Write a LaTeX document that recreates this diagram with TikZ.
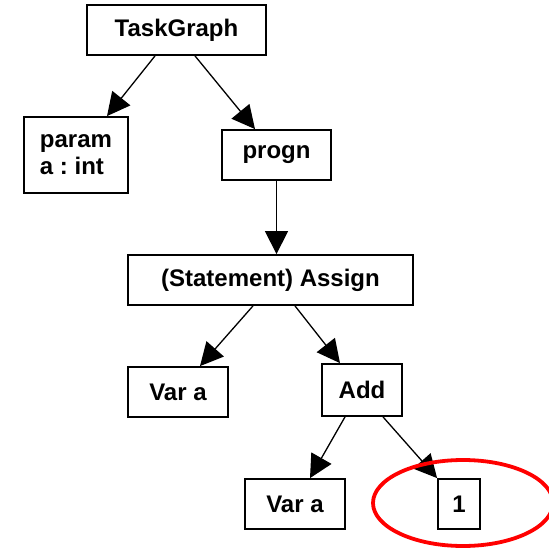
\documentclass[tikz,border=0pt]{standalone}
\usepackage{fontspec}
\setmainfont{Liberation Sans}
\usetikzlibrary{arrows.meta}
\begin{document}
\begin{tikzpicture}  % ------ arbre de la tache -----------------------------
      [x={(1pt,0pt)},y={(0pt,-1pt)},
       boite/.style={draw, line width=1.8pt, inner sep=0pt, font=\fontsize{24}{27}\selectfont\bfseries\frenchspacing},
       fleche/.style={line width=1.3pt, -{Triangle[length=23pt,width=23pt]}}]

    \useasboundingbox (0,0) rectangle (549,548);

    \node[boite, minimum width=179pt, minimum height=50pt] (TG) at (176.5,30) {TaskGraph};
    \node[boite, minimum width=104pt, minimum height=76pt, align=left] (P) at (76,155) {param\\a : int};
    \node[boite, minimum width=109pt, minimum height=50pt] (PR) at (276.5,155) {progn};
    \node[boite, minimum width=285pt, minimum height=50pt] (AS) at (270.5,280) {(Statement) Assign};
    \node[boite, minimum width=100pt, minimum height=50pt] (V1) at (178,392) {Var a};
    \node[boite, minimum width=80pt, minimum height=52pt] (AD) at (362,390) {Add};
    \node[boite, minimum width=100pt, minimum height=50pt] (V2) at (295,504) {Var a};
    \node[boite, minimum width=42pt, minimum height=50pt] (UN) at (459,504) {1};

%     \draw [fleche] (TG) -- (P) ; % pour debug
    \draw [fleche] ([xshift=-21.5pt]TG.south) -- ([xshift=31pt]P.north);
    \draw [fleche] ([xshift=18.5pt]TG.south) -- ([xshift=-21.5pt]PR.north);
    \draw [fleche] (PR.south) -- (PR.south |- AS.north);
    \draw [fleche] ([xshift=-17.5pt]AS.south) -- ([xshift=22pt]V1.north);
    \draw [fleche] ([xshift=24.5pt]AS.south) -- ([xshift=-22pt]AD.north);
    \draw [fleche] ([xshift=-17pt]AD.south) -- ([xshift=15pt]V2.north);
    \draw [fleche] ([xshift=21pt]AD.south) -- (UN.north west);

    \draw [red, line width=3.8pt] (463,503) ellipse [x radius=90pt, y radius=43pt];

\end{tikzpicture}
\end{document}
